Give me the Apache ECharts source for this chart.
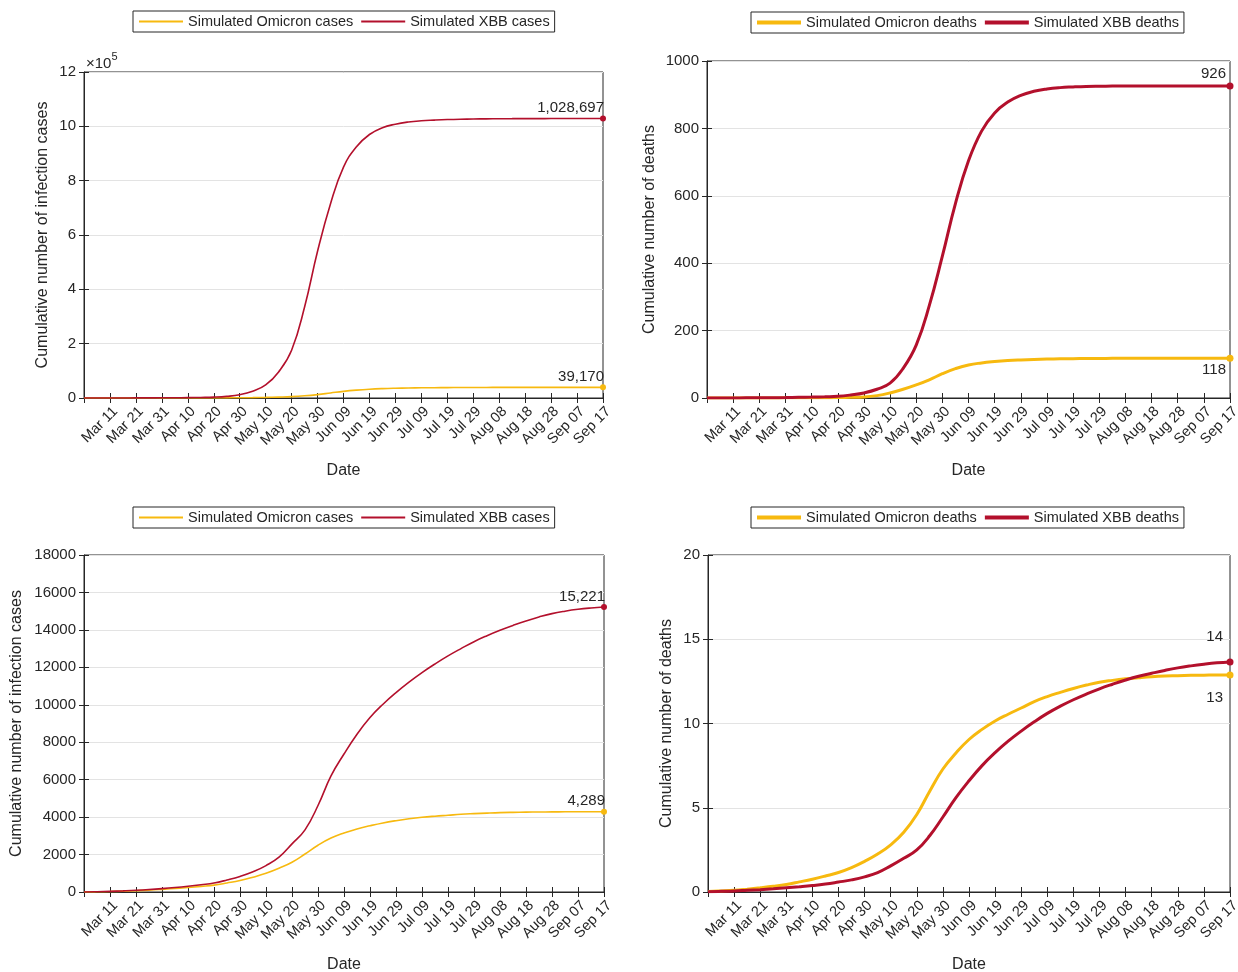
<!DOCTYPE html>
<html>
<head>
<meta charset="utf-8">
<title>Simulated Omicron vs XBB</title>
<script src="https://cdn.jsdelivr.net/npm/echarts@6/dist/echarts.min.js"></script>
<style>
  html, body { margin: 0; padding: 0; background: #fff; }
  #chart { width: 1238px; height: 972px; }
</style>
</head>
<body>
<div id="chart"></div>
<script>
// days since Mar 01 (axis runs Mar 01 .. Sep 17)
const days = [0, 5, 10, 15, 20, 25, 30, 35, 40, 45, 50, 55, 60, 65, 70, 75, 80, 85, 90, 95,
    100, 105, 110, 115, 120, 125, 130, 135, 140, 145, 150, 155, 160, 165, 170, 175, 180, 185, 190, 195, 200];

const tickLabels = ['Mar 11', 'Mar 21', 'Mar 31', 'Apr 10', 'Apr 20', 'Apr 30', 'May 10', 'May 20', 'May 30',
    'Jun 09', 'Jun 19', 'Jun 29', 'Jul 09', 'Jul 19', 'Jul 29', 'Aug 08', 'Aug 18', 'Aug 28', 'Sep 07', 'Sep 17'];

// top row
const omicronCasesTop = [0, 10, 20, 35, 50, 70, 100, 140, 200, 280, 400, 600, 900, 1400, 2200, 3400, 5000, 8000, 12500, 18500,
    24500, 29000, 32300, 34500, 35900, 36800, 37500, 38000, 38350, 38600, 38780, 38900, 38980, 39040, 39080, 39110, 39130, 39145, 39158, 39165, 39170];
const xbbCasesTop = [0, 50, 100, 200, 300, 450, 650, 950, 1400, 2100, 3200, 6000, 12000, 25000, 48000, 96000, 176000, 335000, 540000, 715000,
    850000, 925000, 970000, 995000, 1008000, 1016000, 1020500, 1023000, 1025000, 1026300, 1027000, 1027600, 1028000, 1028200, 1028400, 1028500, 1028580, 1028630, 1028670, 1028690, 1028697];
const omicronDeathsTop = [0, 0, 0.1, 0.1, 0.2, 0.3, 0.4, 0.5, 0.7, 0.9, 1.2, 2, 3, 7, 15, 26, 39, 54, 72, 87,
    98, 104, 108, 111, 113, 114.5, 115.5, 116.2, 116.7, 117.1, 117.4, 117.6, 117.8, 117.9, 117.95, 118, 118, 118, 118, 118, 118];
const xbbDeathsTop = [0, 0.1, 0.2, 0.4, 0.6, 0.9, 1.3, 2, 2.8, 3.8, 5, 9, 15, 26, 44, 88, 157, 274, 421, 577,
    704, 792, 846, 878, 898, 910, 917, 921, 923, 924.5, 925.2, 925.6, 925.8, 925.9, 926, 926, 926, 926, 926, 926, 926];

// bottom row
const omicronCasesBottom = [0, 10, 25, 45, 70, 100, 140, 185, 240, 300, 365, 480, 610, 790, 1000, 1270, 1590, 2030, 2500, 2880,
    3150, 3370, 3540, 3690, 3810, 3910, 3990, 4050, 4100, 4150, 4185, 4215, 4240, 4255, 4265, 4273, 4279, 4283, 4286, 4288, 4289];
const xbbCasesBottom = [0, 15, 35, 60, 90, 130, 180, 240, 310, 390, 480, 640, 830, 1080, 1410, 1860, 2570, 3320, 4620, 6200,
    7370, 8430, 9320, 10030, 10650, 11210, 11720, 12180, 12610, 13000, 13370, 13690, 13980, 14240, 14480, 14690, 14870, 15000, 15100, 15170, 15221];
const omicronDeathsBottom = [0.03, 0.06, 0.1, 0.17, 0.25, 0.34, 0.45, 0.6, 0.76, 0.95, 1.16, 1.45, 1.82, 2.25, 2.8, 3.55, 4.6, 6.0, 7.3, 8.25,
    9.05, 9.65, 10.15, 10.55, 10.92, 11.3, 11.6, 11.85, 12.08, 12.28, 12.45, 12.56, 12.65, 12.72, 12.78, 12.82, 12.84, 12.86, 12.87, 12.88, 12.88];
const xbbDeathsBottom = [0.02, 0.04, 0.06, 0.1, 0.14, 0.19, 0.25, 0.31, 0.38, 0.47, 0.59, 0.72, 0.9, 1.15, 1.55, 2.0, 2.5, 3.35, 4.45, 5.6,
    6.6, 7.5, 8.27, 8.95, 9.55, 10.1, 10.6, 11.03, 11.41, 11.75, 12.06, 12.33, 12.58, 12.8, 12.98, 13.15, 13.3, 13.42, 13.52, 13.6, 13.65];

const FONT = '"Liberation Sans", Arial, sans-serif';
const TEXT = '#262626';
const YELLOW = '#F7B90F';
const RED = '#B3102C';

const chart = echarts.init(document.getElementById('chart'));

const grids = [
    { left: 84, top: 72, width: 519, height: 326 },
    { left: 707, top: 61, width: 523, height: 337 },
    { left: 84, top: 555, width: 520, height: 337 },
    { left: 708, top: 555, width: 522, height: 337 }
];

const yAxes = [
    { max: 1200000, interval: 200000, name: 'Cumulative number of infection cases', gap: 33, fmt: v => String(v / 100000) },
    { max: 1000, interval: 200, name: 'Cumulative number of deaths', gap: 49 },
    { max: 18000, interval: 2000, name: 'Cumulative number of infection cases', gap: 59 },
    { max: 20, interval: 5, name: 'Cumulative number of deaths', gap: 33 }
];

const xAxis = [];
const yAxis = [];
grids.forEach((g, i) => {
    xAxis.push({
        type: 'value', gridIndex: i, position: 'bottom', min: 0, max: 200, interval: 10,
        name: 'Date', nameLocation: 'middle', nameGap: 65, nameMoveOverlap: false,
        nameTextStyle: { fontSize: 16, color: TEXT, fontFamily: FONT },
        axisLine: { show: true, onZero: false, lineStyle: { color: TEXT, width: 1 } },
        axisTick: { show: true, inside: true, length: 5, lineStyle: { color: TEXT } },
        axisLabel: {
            rotate: 45, fontSize: 14.5, color: TEXT, fontFamily: FONT, margin: 6,
            align: 'right', verticalAlign: 'top',
            formatter: v => (v === 0 ? '' : tickLabels[v / 10 - 1])
        },
        splitLine: { show: false }
    });
    xAxis.push({
        type: 'value', gridIndex: i, position: 'top', min: 0, max: 200, interval: 10,
        axisLine: { show: false },
        axisTick: { show: true, inside: true, length: 5, lineStyle: { color: TEXT } },
        axisLabel: { show: false },
        splitLine: { show: false }
    });
    const y = yAxes[i];
    yAxis.push({
        type: 'value', gridIndex: i, position: 'left', min: 0, max: y.max, interval: y.interval,
        name: y.name, nameLocation: 'middle', nameGap: y.gap, nameMoveOverlap: false,
        nameTextStyle: { fontSize: 16, color: TEXT, fontFamily: FONT },
        axisLine: { show: true, lineStyle: { color: TEXT, width: 1 } },
        axisTick: { show: true, inside: true, length: 5, lineStyle: { color: TEXT } },
        axisLabel: { fontSize: 15, color: TEXT, fontFamily: FONT, margin: 8, formatter: y.fmt || (v => String(v)) },
        splitLine: { show: true, lineStyle: { color: '#e3e3e3', width: 1 } }
    });
    yAxis.push({
        type: 'value', gridIndex: i, position: 'right', min: 0, max: y.max, interval: y.interval,
        axisLine: { show: false },
        axisTick: { show: true, inside: true, length: 5, lineStyle: { color: TEXT } },
        axisLabel: { show: false },
        splitLine: { show: false }
    });
});

// one line per series, with a dot + value label on the final point
function lineSeries(name, values, gi, color, width, dot, side, gap, dx) {
    const last = values.length - 1;
    const label = {
        show: true,
        fontSize: 15, color: TEXT, fontFamily: FONT,
        align: 'right',
        verticalAlign: side === 'above' ? 'bottom' : 'top',
        position: [dot / 2 + dx, side === 'above' ? -gap : dot + gap],
        formatter: p => Math.round(p.value[1]).toLocaleString('en-US')
    };
    return {
        name, type: 'line',
        xAxisIndex: gi * 2, yAxisIndex: gi * 2,
        data: values.map((v, i) => (i === last
            ? { value: [days[i], v], symbol: 'circle', symbolSize: dot, label }
            : [days[i], v])),
        symbol: 'none',
        smooth: 0.45,
        lineStyle: { color, width },
        itemStyle: { color },
        emphasis: { disabled: true },
        silent: true,
        animation: false
    };
}

const series = [
    lineSeries('Simulated Omicron cases', omicronCasesTop, 0, YELLOW, 1.6, 6, 'above', 0, 1),
    lineSeries('Simulated XBB cases', xbbCasesTop, 0, RED, 1.6, 6, 'above', 0, 1),
    lineSeries('Simulated Omicron deaths', omicronDeathsTop, 1, YELLOW, 3, 7, 'below', 1, -4),
    lineSeries('Simulated XBB deaths', xbbDeathsTop, 1, RED, 3, 7, 'above', 1, -4),
    lineSeries('Simulated Omicron cases', omicronCasesBottom, 2, YELLOW, 1.6, 6, 'above', 0, 1),
    lineSeries('Simulated XBB cases', xbbCasesBottom, 2, RED, 1.6, 6, 'above', 0, 1),
    lineSeries('Simulated Omicron deaths', omicronDeathsBottom, 3, YELLOW, 3, 7, 'below', 12, -7),
    lineSeries('Simulated XBB deaths', xbbDeathsBottom, 3, RED, 3, 7, 'above', 14, -7)
];

function legend(left, top, names, thick) {
    return {
        left, top,
        data: names,
        orient: 'horizontal',
        icon: 'rect',
        itemWidth: 44,
        itemHeight: thick ? 4 : 2,
        itemGap: 8,
        padding: [3, 5, 3, 6],
        borderColor: TEXT,
        borderWidth: 1,
        backgroundColor: '#fff',
        selectedMode: false,
        textStyle: { fontSize: 14.5, color: TEXT, fontFamily: FONT }
    };
}

const option = {
    backgroundColor: '#fff',
    animation: false,
    grid: grids.map(g => Object.assign({
        show: true, borderColor: TEXT, borderWidth: 1, backgroundColor: 'transparent',
        containLabel: false, outerBoundsMode: 'none'
    }, g)),
    legend: [
        legend(133, 11, ['Simulated Omicron cases', 'Simulated XBB cases'], false),
        legend(751, 12, ['Simulated Omicron deaths', 'Simulated XBB deaths'], true),
        legend(133, 507, ['Simulated Omicron cases', 'Simulated XBB cases'], false),
        legend(751, 507, ['Simulated Omicron deaths', 'Simulated XBB deaths'], true)
    ],
    graphic: [{
        type: 'text', left: 86, top: 51, silent: true,
        style: {
            text: '{b|×10}{s|5}',
            fill: TEXT,
            fontFamily: FONT,
            rich: {
                b: { fontSize: 15, fontFamily: FONT, fill: TEXT, verticalAlign: 'bottom', lineHeight: 20 },
                s: { fontSize: 11, fontFamily: FONT, fill: TEXT, verticalAlign: 'top', lineHeight: 20 }
            }
        }
    }],
    xAxis,
    yAxis,
    series
};

chart.setOption(option);
window.addEventListener('resize', () => chart.resize());
</script>
</body>
</html>
